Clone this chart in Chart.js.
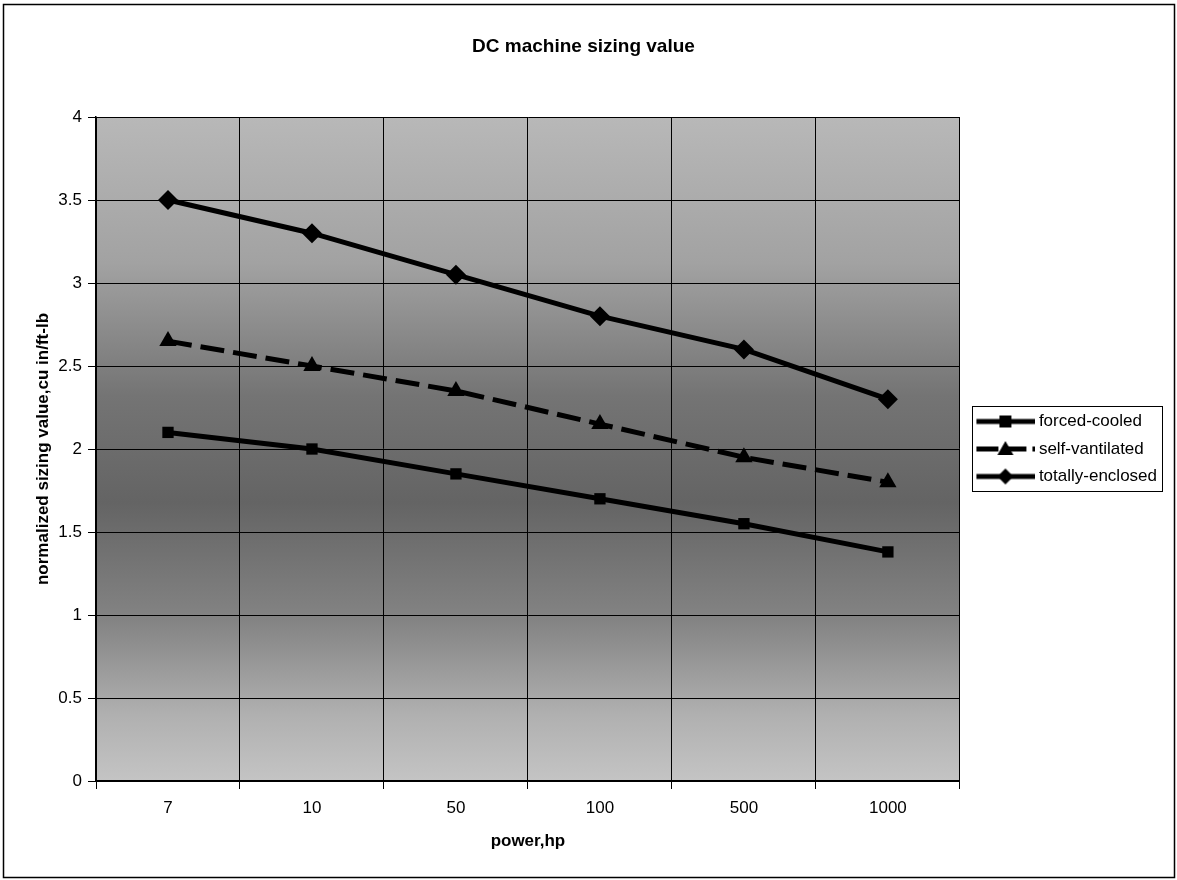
<!DOCTYPE html>
<html>
<head>
<meta charset="utf-8">
<title>DC machine sizing value</title>
<script src="https://cdn.jsdelivr.net/npm/chart.js@4.4.1/dist/chart.umd.min.js"></script>
<style>
  html, body { margin: 0; padding: 0; background: #fff; }
</style>
</head>
<body>
<canvas id="chart" width="1177" height="880"></canvas>
<script>
// data
const powerLabels = ['7', '10', '50', '100', '500', '1000'];
const forcedCooled = [2.1, 2.0, 1.85, 1.7, 1.55, 1.38];
const selfVentilated = [2.65, 2.5, 2.35, 2.15, 1.95, 1.8];
const totallyEnclosed = [3.5, 3.3, 3.05, 2.8, 2.6, 2.3];
const yTicks = [0, 0.5, 1, 1.5, 2, 2.5, 3, 3.5, 4];

const FONT = '"Liberation Sans", Arial, sans-serif';

// legend icon: thick line with the marker in the middle
function legendIcon(marker, dashed) {
    const c = document.createElement('canvas');
    c.width = 70; c.height = 20;
    const g = c.getContext('2d');
    g.strokeStyle = '#000';
    g.fillStyle = '#000';
    g.lineWidth = 5;
    if (dashed) g.setLineDash([22, 6]);
    g.beginPath(); g.moveTo(11, 10); g.lineTo(70, 10); g.stroke();
    g.setLineDash([]);
    const cx = 40, cy = 10;
    g.beginPath();
    if (marker === 'rect') {
        g.rect(cx - 6, cy - 6, 12, 12);
    } else if (marker === 'triangle') {
        g.moveTo(cx, cy - 8); g.lineTo(cx + 8, cy + 6); g.lineTo(cx - 8, cy + 6); g.closePath();
    } else {
        g.moveTo(cx, cy - 8); g.lineTo(cx + 8, cy); g.lineTo(cx, cy + 8); g.lineTo(cx - 8, cy); g.closePath();
    }
    g.fill();
    return c;
}

const pageBackground = {
    id: 'pageBackground',
    beforeDraw(chart) {
        const { ctx, chartArea: a } = chart;
        ctx.save();
        ctx.fillStyle = '#fff';
        ctx.fillRect(0, 0, chart.width, chart.height);
        const grad = ctx.createLinearGradient(0, a.top, 0, a.bottom);
        grad.addColorStop(0, '#b8b8b8');
        grad.addColorStop(0.22, '#a2a2a2');
        grad.addColorStop(0.42, '#747474');
        grad.addColorStop(0.58, '#646464');
        grad.addColorStop(0.76, '#848484');
        grad.addColorStop(0.9, '#b0b0b0');
        grad.addColorStop(1, '#c4c4c4');
        ctx.fillStyle = grad;
        ctx.fillRect(a.left, a.top, a.right - a.left, a.bottom - a.top);
        ctx.strokeStyle = '#000';
        ctx.lineWidth = 1.5;
        ctx.strokeRect(3.5, 4.5, 1171, 873);
        ctx.restore();
    }
};

const legendFrame = {
    id: 'legendFrame',
    afterDraw(chart) {
        const boxes = chart.legend && chart.legend.legendHitBoxes;
        if (!boxes || !boxes.length) return;
        const first = boxes[0], last = boxes[boxes.length - 1];
        const { ctx } = chart;
        ctx.save();
        ctx.strokeStyle = '#000';
        ctx.lineWidth = 1;
        ctx.strokeRect(Math.round(first.left) + 2.5, Math.round(first.top) - 6.5, 190, last.top + last.height - first.top + 13);
        ctx.restore();
    }
};

const ctx = document.getElementById('chart').getContext('2d');
new Chart(ctx, {
    type: 'line',
    data: {
        labels: powerLabels,
        datasets: [
            {
                label: 'forced-cooled',
                data: forcedCooled,
                borderColor: '#000',
                backgroundColor: '#000',
                borderWidth: 5,
                pointStyle: 'rect',
                pointRadius: 8,
                pointBorderWidth: 0,
                tension: 0,
                icon: legendIcon('rect', false)
            },
            {
                label: 'self-vantilated',
                data: selfVentilated,
                borderColor: '#000',
                backgroundColor: '#000',
                borderWidth: 5,
                borderDash: [24, 9],
                pointStyle: 'triangle',
                pointRadius: 10,
                pointBorderWidth: 0,
                tension: 0,
                icon: legendIcon('triangle', true)
            },
            {
                label: 'totally-enclosed',
                data: totallyEnclosed,
                borderColor: '#000',
                backgroundColor: '#000',
                borderWidth: 5,
                pointStyle: 'rectRot',
                pointRadius: 10,
                pointBorderWidth: 0,
                tension: 0,
                icon: legendIcon('diamond', false)
            }
        ]
    },
    options: {
        responsive: false,
        animation: false,
        devicePixelRatio: 1,
        layout: { padding: { left: 0, right: 10, top: 0, bottom: 19 } },
        plugins: {
            title: {
                display: true,
                text: 'DC machine sizing value',
                color: '#000',
                font: { family: FONT, size: 19, weight: 'bold' },
                padding: { top: 35.6, bottom: 58.6 }
            },
            legend: {
                display: true,
                position: 'right',
                fullSize: false,
                labels: {
                    color: '#000',
                    font: { family: FONT, size: 17 },
                    usePointStyle: true,
                    pointStyleWidth: 60,
                    padding: 10.5,
                    generateLabels(chart) {
                        return chart.data.datasets.map((ds, i) => ({
                            text: ds.label,
                            pointStyle: ds.icon,
                            fillStyle: '#000',
                            strokeStyle: '#000',
                            lineWidth: 0,
                            fontColor: '#000',
                            hidden: false,
                            datasetIndex: i
                        }));
                    }
                }
            },
            tooltip: { enabled: false }
        },
        scales: {
            x: {
                offset: true,
                grid: { offset: true, color: '#000', lineWidth: 1, tickLength: 8, drawTicks: true },
                border: { color: '#000', width: 1.5 },
                ticks: { color: '#000', font: { family: FONT, size: 17 }, padding: 9, maxRotation: 0 },
                title: {
                    display: true,
                    text: 'power,hp',
                    color: '#000',
                    font: { family: FONT, size: 17, weight: 'bold' },
                    padding: { top: 0, bottom: 9 }
                },
                afterFit(scale) { scale.height = 80; }
            },
            y: {
                min: 0,
                max: 4,
                afterBuildTicks(scale) { scale.ticks = yTicks.map(v => ({ value: v })); },
                grid: { color: '#000', lineWidth: 1, tickLength: 8 },
                border: { color: '#000', width: 1.5 },
                ticks: {
                    color: '#000',
                    font: { family: FONT, size: 17 },
                    padding: 6,
                    callback: v => String(v)
                },
                title: {
                    display: true,
                    text: 'normalized sizing value,cu in/ft-lb',
                    color: '#000',
                    font: { family: FONT, size: 17, weight: 'bold' },
                    padding: { top: 33, bottom: 0 }
                },
                afterFit(scale) { scale.width = 96; }
            }
        }
    },
    plugins: [pageBackground, legendFrame]
});
</script>
</body>
</html>
